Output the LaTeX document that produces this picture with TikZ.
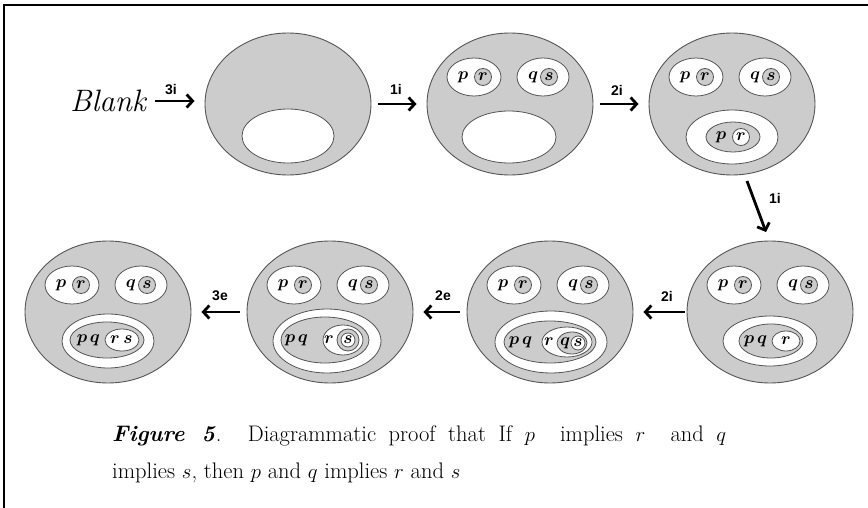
\documentclass[tikz,border=0pt]{standalone}
\usepackage{fontspec}
\usetikzlibrary{shapes.geometric,arrows.meta}
\newfontfamily\arialf{Liberation Sans}
\newcommand\letv[1]{{\boldmath$#1$}}
\definecolor{fillgray}{HTML}{CCCCCC}
\definecolor{edgegray}{HTML}{555555}
\tikzset{
  bigell/.style={ellipse, draw=edgegray, fill=fillgray, line width=0.9pt, minimum width=166pt, minimum height=142pt, inner sep=0pt},
  wh/.style={draw=edgegray, fill=white, line width=0.8pt},
  gr/.style={draw=edgegray, fill=fillgray, line width=0.8pt},
  lt/.style={font=\rmfamily\fontsize{16}{16}\selectfont, inner sep=0pt},
  lab/.style={font=\arialf\bfseries\fontsize{14}{14}\selectfont, inner sep=0pt},
  arr/.style={line width=2.8pt, -{Straight Barb[length=6pt,width=13pt]}},
}
% the two upper pairs (p r) and (q s) in a main ellipse centred at #1,#2
\newcommand\pairsPQ[3]{%
  \draw[wh] ({#1-36},{#2-27}) ellipse [x radius=27pt, y radius=19pt];
  \draw[wh] ({#1+33},{#2-27}) ellipse [x radius=26pt, y radius=19pt];
  \draw[gr] ({#1-27},{#2-27}) circle [radius=8.5pt];
  \draw[gr] ({#1+39},{#2-27}) circle [radius=8.5pt];
  \node[lt] (#3p) at ({#1-47},{#2-27}) {\letv{p}};
  \node[lt] (#3r) at ({#1-27},{#2-27}) {\letv{r}};
  \node[lt] (#3q) at ({#1+23},{#2-27}) {\letv{q}};
  \node[lt] (#3s) at ({#1+39},{#2-27}) {\letv{s}};
}
\begin{document}
\begin{tikzpicture}[x=1pt,y=-1pt]
\useasboundingbox (0,0) rectangle (868,508);
\draw[line width=1.2pt] (868,5) -- (4,5) -- (4,508);

% Blank
\node[font=\rmfamily\itshape\fontsize{31}{31}\selectfont, inner sep=0pt] (blank) at (108,101) {Blank};

% main ellipses
\node[bigell] (E1) at (288,104) {};
\node[bigell] (E2) at (510,104) {};
\node[bigell] (E3) at (732,104) {};
\node[bigell] (E4) at (770,312) {};
\node[bigell] (E5) at (550,312) {};
\node[bigell] (E6) at (330,312) {};
\node[bigell] (E7) at (108,312) {};

% E1
\draw[wh] (288,136) ellipse [x radius=46pt, y radius=27pt];
% E2
\pairsPQ{510}{104}{b}
\draw[wh] (509,137) ellipse [x radius=47pt, y radius=26pt];
% E3
\pairsPQ{732}{104}{c}
\draw[wh] (732,137) ellipse [x radius=46pt, y radius=27pt];
\draw[gr] (733,137) ellipse [x radius=27pt, y radius=15pt];
\draw[wh] (741,137) circle [radius=8.5pt];
\node[lt] (c3p) at (721,137) {\letv{p}};
\node[lt] (c3r) at (741,137) {\letv{r}};
% E4
\pairsPQ{770}{312}{d}
\draw[wh] (770,341) ellipse [x radius=47pt, y radius=25pt];
\draw[gr] (771,341) ellipse [x radius=32pt, y radius=17pt];
\draw[wh] (786,341) ellipse [x radius=14pt, y radius=10pt];
\node[lt] (d3p) at (749,341) {\letv{p}};
\node[lt] (d3q) at (762,341) {\letv{q}};
\node[lt] (d3r) at (786,341) {\letv{r}};
% E5
\pairsPQ{550}{312}{e}
\draw[wh] (551,342) ellipse [x radius=56pt, y radius=31pt];
\draw[gr] (550,342) ellipse [x radius=46pt, y radius=21pt];
\draw[wh] (567,342) ellipse [x radius=25pt, y radius=15pt];
\draw[gr] (572,343) ellipse [x radius=15pt, y radius=11pt];
\draw[wh] (578,343) circle [radius=7pt];
\node[lt] (e3p) at (514,342) {\letv{p}};
\node[lt] (e3q) at (527,342) {\letv{q}};
\node[lt] (e3r) at (549,342) {\letv{r}};
\node[lt] (e3q2) at (565,343) {\letv{q}};
\node[lt] (e3s) at (578,343) {\letv{s}};
% E6
\pairsPQ{330}{312}{f}
\draw[wh] (327,341) ellipse [x radius=54pt, y radius=32pt];
\draw[gr] (325,340) ellipse [x radius=44pt, y radius=23pt];
\draw[wh] (343,340) ellipse [x radius=20pt, y radius=15pt];
\draw[gr] (348,340) circle [radius=11pt];
\draw[wh] (348,340) circle [radius=7pt];
\node[lt] (f3p) at (290,340) {\letv{p}};
\node[lt] (f3q) at (303,340) {\letv{q}};
\node[lt] (f3r) at (329,340) {\letv{r}};
\node[lt] (f3s) at (348,340) {\letv{s}};
% E7
\pairsPQ{108}{312}{g}
\draw[wh] (108,341) ellipse [x radius=46pt, y radius=27pt];
\draw[gr] (107,340) ellipse [x radius=37pt, y radius=18pt];
\draw[wh] (122,340) ellipse [x radius=17pt, y radius=11pt];
\node[lt] (g3p) at (82,340) {\letv{p}};
\node[lt] (g3q) at (95,340) {\letv{q}};
\node[lt] (g3r) at (115,340) {\letv{r}};
\node[lt] (g3s) at (128,340) {\letv{s}};

% arrows
\draw[arr, shorten <=9pt, shorten >=10pt] (blank) -- (blank -| E1.west);
\draw[arr, shorten <=7pt, shorten >=10pt] (E1) -- (E2);
\draw[arr, shorten <=7pt, shorten >=10pt] (E2) -- (E3);
\coordinate (d1) at (747,181);
\coordinate (d2) at (766,232);
\draw[arr] (d1) -- (d2);
\draw[arr, shorten <=2pt, shorten >=10pt] (E4) -- (E5);
\draw[arr, shorten <=7pt, shorten >=10pt] (E5) -- (E6);
\draw[arr, shorten <=7pt, shorten >=10pt] (E6) -- (E7);

% labels
\node[lab] (l1) at (171,90) {3i};
\node[lab] (l2) at (396,89) {1i};
\node[lab] (l3) at (617,90) {2i};
\node[lab] (l4) at (775,198) {1i};
\node[lab] (l5) at (667,296) {2i};
\node[lab] (l6) at (443,296) {2e};
\node[lab] (l7) at (220,296) {3e};

% caption
\node[anchor=base west, inner sep=0pt, font=\fontsize{22.5}{37}\selectfont] (cap1) at (112,441)
  {\makebox[614pt][s]{\textbf{\textit{Figure 5}}. Diagrammatic proof that If $p$\ \ implies $r$\ \ and $q$}};
\node[anchor=base west, inner sep=0pt, font=\fontsize{22.5}{37}\selectfont] (cap2) at (112,478)
  {implies $s$, then $p$ and $q$ implies $r$ and $s$};
\end{tikzpicture}
\end{document}
